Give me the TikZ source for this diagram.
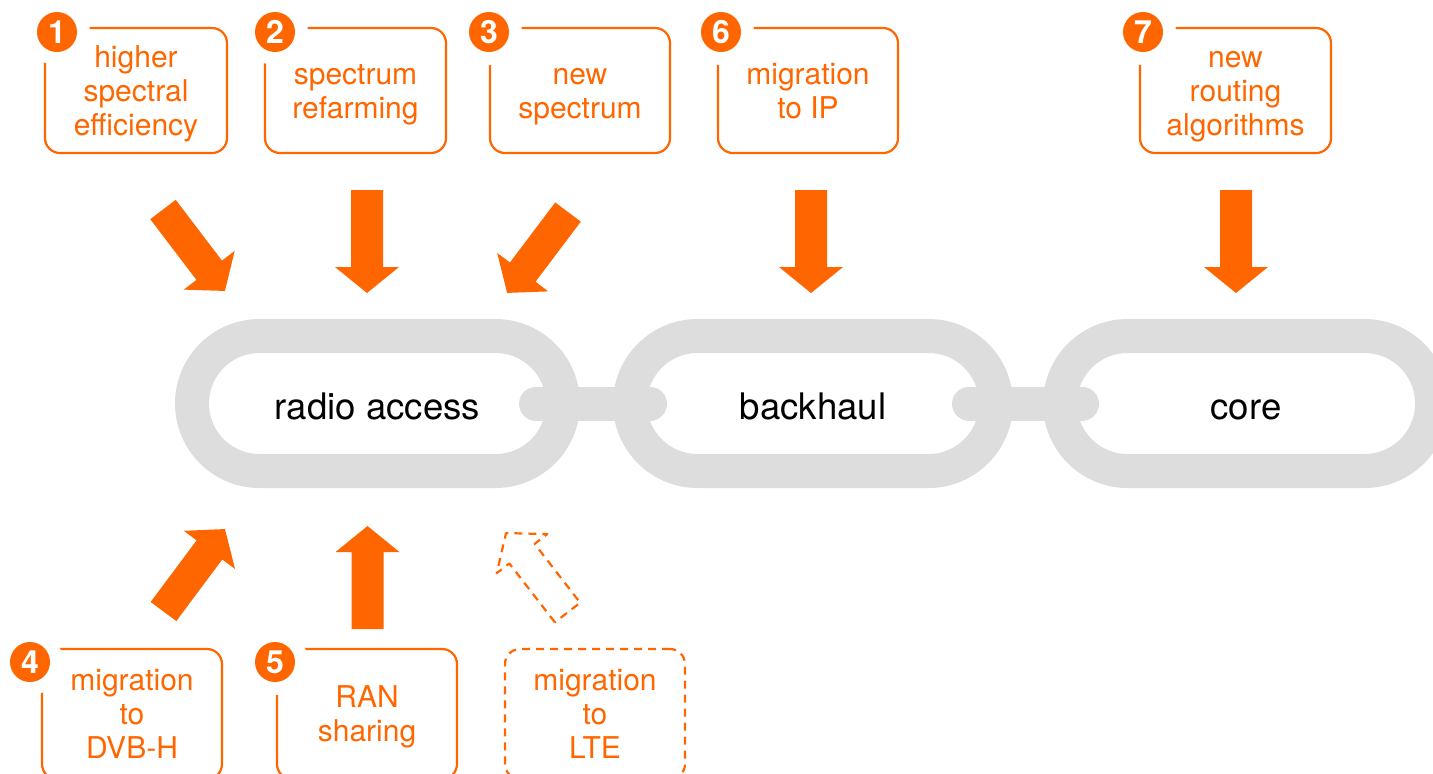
\documentclass[tikz,border=0pt]{standalone}
\usepackage{fontspec}
\setmainfont{TeX Gyre Heros}
\usetikzlibrary{calc,shapes.misc}
\definecolor{brand}{HTML}{FF6600}
\definecolor{chain}{HTML}{DDDDDD}

\begin{document}
\begin{tikzpicture}[x=0.5pt,y=-0.5pt,
  link/.style={rounded rectangle, draw=chain, line width=17pt, minimum height=67.5pt,
    inner sep=0pt, outer sep=0pt, text=black, text height=16pt, text depth=0pt,
    font=\fontsize{18.3}{22}\selectfont},
  bar/.style={draw=chain, line width=17pt, line cap=round},
  callout/.style={rectangle, draw=brand, line width=1.1pt, rounded corners=7.5pt,
    minimum height=62.5pt, inner sep=0pt, outer sep=0pt, align=center, text=brand,
    text depth=0pt, font=\fontsize{15}{17}\selectfont},
  lowcallout/.style={callout, minimum height=65pt},
  badge/.style={circle, fill=brand, minimum size=20pt, inner sep=0pt, text=white,
    font=\fontsize{16}{16}\selectfont\bfseries,
    preaction={fill=white, draw=white, line width=13pt}},
  blockarrow/.style={to path={
    let \p1=(\tikztostart), \p2=(\tikztotarget),
        \n1={atan2((\y2)-(\y1),(\x2)-(\x1))}, \n2={veclen((\x2)-(\x1),(\y2)-(\y1))} in
    [shift={(\p1)}, rotate=\n1]
    (0pt,8pt) -- ({(\n2-13)*1pt},8pt) -- ({(\n2-13)*1pt},16pt) -- ({\n2*1pt},0pt)
    -- ({(\n2-13)*1pt},-16pt) -- ({(\n2-13)*1pt},-8pt) -- (0pt,-8pt) -- cycle}},
  solidarrow/.style={fill=brand, blockarrow},
  dashedarrow/.style={draw=brand, line width=1.1pt, dash pattern=on 4pt off 3pt,
    line join=round, blockarrow}
]
\clip (0,0) rectangle (1433,773);

% chain of three links
\node[link, minimum width=185.5pt] (ra) at (377.5,403.5) {radio access};
\node[link, minimum width=183pt]   (bh) at (813,403.5)   {backhaul};
\node[link, minimum width=186pt]   (co) at (1246,403.5)  {core};
\draw[bar] ([xshift=-13.5pt]ra.east) -- ([xshift=10pt]bh.west);
\draw[bar] ([xshift=-13.5pt]bh.east) -- ([xshift=11pt]co.west);

% upper callouts
\node[callout, minimum width=91pt]   (c1) at (136,90.5)    {higher\\spectral\\efficiency};
\node[callout, minimum width=90.5pt] (c2) at (355.5,90.5)  {\vphantom{h}spectrum\\refarming};
\node[callout, minimum width=90pt]   (c3) at (580,90.5)    {\vphantom{h}new\\spectrum};
\node[callout, minimum width=90pt]   (c6) at (808,90.5)    {migration\\to IP};
\node[callout, minimum width=95.5pt] (c7) at (1235.5,90.5) {\vphantom{h}new\\routing\\algorithms};

% lower callouts
\node[lowcallout, minimum width=90pt] (c4) at (132,714) {migration\\to\\DVB-H};
\node[lowcallout, minimum width=90pt] (c5) at (367,714) {RAN\\sharing};
\node[lowcallout, minimum width=90pt, dash pattern=on 4pt off 3pt] (c8) at (595,714)
  {migration\\to\\LTE};

% numbered badges
\node[badge] (n1) at (57,32)   {1};
\node[badge] (n2) at (275,32)  {2};
\node[badge] (n3) at (489,32)  {3};
\node[badge] (n6) at (721,32)  {6};
\node[badge] (n7) at (1143,32) {7};
\node[badge] (n4) at (30,662)  {4};
\node[badge] (n5) at (275,662) {5};

% arrow tails and tips
\coordinate (t1) at (163,209.5);   \coordinate (h1) at (225,291);
\coordinate (t2) at (367,190);     \coordinate (h2) at (367,293);
\coordinate (t3) at (568,212);     \coordinate (h3) at (507,293);
\coordinate (t6) at (811,190);     \coordinate (h6) at (811,293);
\coordinate (t7) at (1236,190);    \coordinate (h7) at (1236,293);
\coordinate (t4) at (163.5,611.5); \coordinate (h4) at (225,529);
\coordinate (t5) at (367.5,629);   \coordinate (h5) at (367.5,526);
\coordinate (t8) at (567.5,612.5); \coordinate (h8) at (506,533);

\path[solidarrow] (t1) to (h1);
\path[solidarrow] (t2) to (h2);
\path[solidarrow] (t3) to (h3);
\path[solidarrow] (t6) to (h6);
\path[solidarrow] (t7) to (h7);
\path[solidarrow] (t4) to (h4);
\path[solidarrow] (t5) to (h5);
\path[dashedarrow] (t8) to (h8);
\end{tikzpicture}
\end{document}
